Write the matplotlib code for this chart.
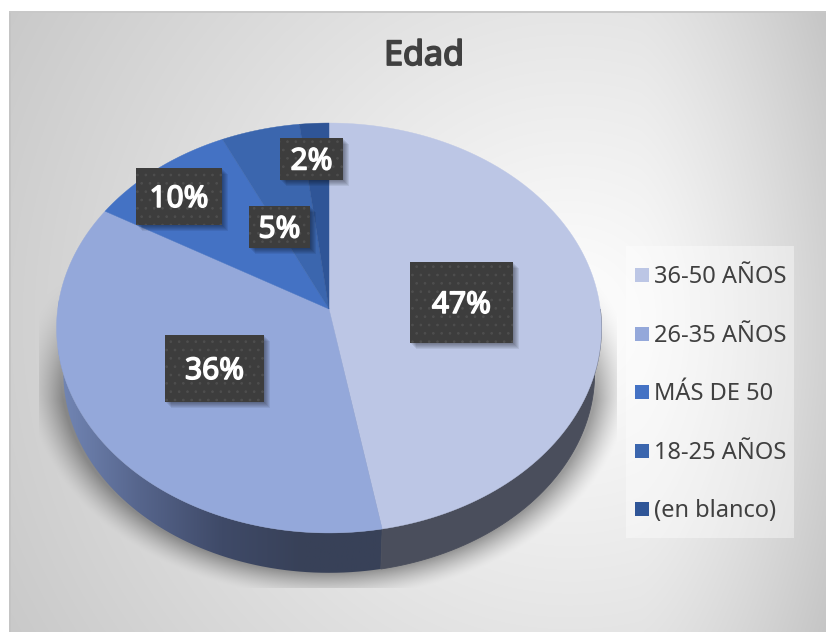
# import needed modules
import matplotlib
matplotlib.use("Agg")
import matplotlib.pyplot as plt
import matplotlib.patheffects as pe
from matplotlib.colors import LinearSegmentedColormap
from matplotlib.patches import Rectangle
import numpy as np

plt.rcParams["font.family"] = ["Noto Sans", "DejaVu Sans"]
plt.rcParams["hatch.linewidth"] = 0.7

# chart data
title = "Edad"
categories = ["36-50 AÑOS", "26-35 AÑOS", "MÁS DE 50", "18-25 AÑOS", "(en blanco)"]
percent = [47.15, 36.25, 9.6, 5.1, 1.9]

slice_colors = ["#bcc6e5", "#94a8da", "#4472c4", "#3b66ae", "#2f5597"]
text_color = "#404040"

# label boxes, pixels: left, top, right, bottom
label_boxes = [(410, 262, 513, 343), (165, 335, 264, 402), (136, 168, 222, 225),
               (249, 206, 310, 248), (280, 138, 343, 180)]

W, H = 826, 632
fig = plt.figure(figsize=(W / 100, H / 100), dpi=100)
ax = fig.add_axes([0, 0, 1, 1])
ax.set_xlim(0, W)
ax.set_ylim(H, 0)
ax.axis("off")

# pie geometry
APEX_X, APEX_Y = 329, 309
SCALE_X, SCALE_Y = 271.3, 203.2
PERSP = 0.0926


def project(theta):
    # disc point to screen, a bit of perspective so the apex sits above the ellipse centre
    x, y = np.sin(theta), np.cos(theta)
    w = 1 + PERSP * y
    return APEX_X + SCALE_X * x / w, APEX_Y - SCALE_Y * y / w


def project_low(theta):
    # bottom edge of the pie side
    x, y = project(theta)
    cy = 328
    return 329 + (x - 329) * 0.975, cy + 45 + (y - cy) * 0.975


##############################################################################
####      BACKGROUND + SHADOW    #############################################
##############################################################################

yy, xx = np.mgrid[0:H, 0:W] + 0.5
dist = np.hypot(xx - 570, yy - 320)
grey = 255 - 58 * np.clip(dist / 690, 0, 1) ** 1.0
grey = grey - 24 * np.clip((xx - 640) / 186, 0, 1) ** 1.4

# soft shadow below the pie, cut by a hard rectangle like the original effect
edge = np.hypot((xx - 329) / 275, (yy - 375) / 203)
shadow = 0.36 * np.clip((1.10 - edge) / 0.125, 0, 1) ** 1.4
shadow *= (xx > 39) & (xx < 617) & (yy < 588)
shadow *= np.clip((yy - 270) / 130, 0, 1)
grey = grey * (1 - shadow)

bg = np.dstack([grey, grey, grey]) / 255
bg[xx < 9] = 1
bg[yy < 11] = 1
ax.imshow(bg, extent=(0, W, H, 0), aspect="auto", interpolation="bilinear", zorder=0)
ax.plot([10, 10], [H, 12], color="#c4c4c4", lw=1.4, zorder=1)
ax.plot([10, W], [12, 12], color="#c8c8c8", lw=1.4, zorder=1)

##############################################################################
####      PIE    #############################################################
##############################################################################

edges = np.radians(np.cumsum([0] + percent) * 3.6)

# side of the pie, only the two slices that face the viewer
side_cmap = LinearSegmentedColormap.from_list("side", ["#7387b6", "#56658c", "#3f4a68", "#384158", "#384158"])
side_grad = np.linspace(0, 1, 256).reshape(1, -1)

t = np.linspace(edges[1], edges[2], 90)
xs = np.r_[project(t)[0], project_low(t[::-1])[0]]
ys = np.r_[project(t)[1], project_low(t[::-1])[1]]
clip = ax.fill(xs, ys, color="none", lw=0, zorder=2)[0]
im = ax.imshow(side_grad, extent=(58, 385, 600, 300), aspect="auto", cmap=side_cmap, zorder=2)
im.set_clip_path(clip)
ax.set_xlim(0, W)
ax.set_ylim(H, 0)

t = np.linspace(edges[0] + np.pi / 2, edges[1], 60)
xs = np.r_[project(t)[0], project_low(t[::-1])[0]]
ys = np.r_[project(t)[1], project_low(t[::-1])[1]]
ax.fill(xs, ys, facecolor="#4a4e5c", edgecolor="#4a4e5c", lw=0.6, zorder=2)

# top face
for i, c in enumerate(slice_colors):
    t = np.linspace(edges[i], edges[i + 1], 120)
    x, y = project(t)
    ax.fill(np.r_[APEX_X, x], np.r_[APEX_Y, y], color=c, lw=0.3, zorder=3)

##############################################################################
####      LABELS + TITLE + LEGEND    #########################################
##############################################################################

for (l, t, r, b), v in zip(label_boxes, percent):
    # fake blurred shadow
    for k in range(1, 7):
        ax.add_patch(Rectangle((l + k, t + k), r - l, b - t, facecolor="black", alpha=0.07, lw=0, zorder=4))
    ax.add_patch(Rectangle((l, t), r - l, b - t, facecolor="#3d3d3d", lw=0, zorder=5))
    ax.add_patch(Rectangle((l, t), r - l, b - t, facecolor="none", edgecolor="#4e4e4e", hatch="..", lw=0, zorder=5))
    txt = ax.text((l + r) / 2, (t + b) / 2 + 3, f"{v:.0f}%", color="white", fontsize=21.5,
                  ha="center", va="center", zorder=6)
    txt.set_path_effects([pe.withStroke(linewidth=1.1, foreground="white")])

txt = ax.text(424, 56, title, color=text_color, fontsize=24.5, ha="center", va="center", zorder=6)
txt.set_path_effects([pe.withStroke(linewidth=1.3, foreground=text_color)])

ax.add_patch(Rectangle((626, 246), 168, 292, facecolor="white", alpha=0.4, lw=0, zorder=4))
for i, (name, c) in enumerate(zip(categories, slice_colors)):
    y = 275 + i * 58.6
    ax.add_patch(Rectangle((635, y - 7), 14, 14, facecolor=c, lw=0, zorder=5))
    ax.text(654, y + 2, name, color=text_color, fontsize=17, ha="left", va="center", zorder=6)

fig.savefig("out.png", dpi=100)
